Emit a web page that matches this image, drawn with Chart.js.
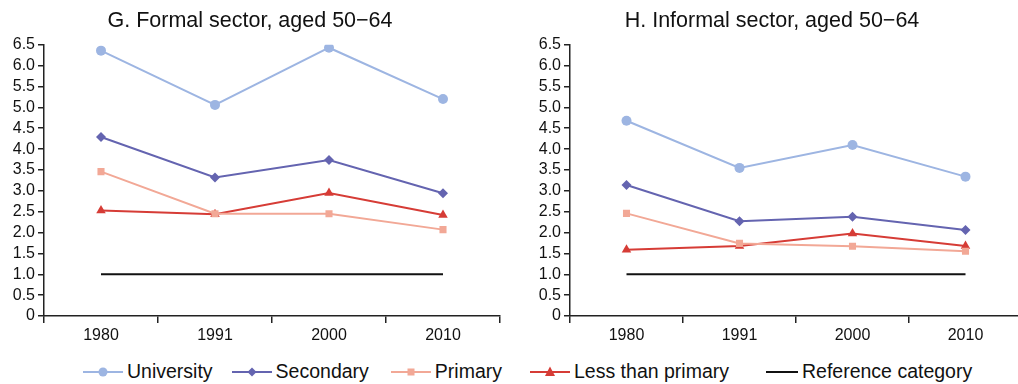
<!DOCTYPE html>
<html>
<head>
<meta charset="utf-8">
<script src="https://cdn.jsdelivr.net/npm/chart.js@4.4.1/dist/chart.umd.min.js"></script>
<style>
    html, body { margin: 0; padding: 0; background: #fff; overflow: hidden; }
    body { width: 1018px; height: 384px; position: relative; font-family: 'Liberation Sans', Arial, sans-serif; }
    .panel { position: absolute; top: 0; }
    #legend { position: absolute; left: 83px; top: 360px; display: flex; align-items: center; color: #111; font-size: 19.5px; }
    .item { display: flex; align-items: center; margin-right: 19px; }
    .item:nth-child(2) { margin-right: 22px; }
    .item:nth-child(3) { margin-right: 28px; }
    .item:nth-child(4) { margin-right: 37px; }
    .item span { margin-left: 4px; }
</style>
</head>
<body>
<div class="panel" style="left:0"><canvas id="formalChart" width="510" height="350"></canvas></div>
<div class="panel" style="left:522px"><canvas id="informalChart" width="510" height="350"></canvas></div>
<div id="legend"></div>

<script>
const years = ['1980', '1991', '2000', '2010'];

const formalUniversity = [6.36, 5.06, 6.43, 5.20];
const formalSecondary = [4.29, 3.32, 3.74, 2.94];
const formalPrimary = [3.46, 2.45, 2.45, 2.07];
const formalLessPrimary = [2.53, 2.44, 2.95, 2.42];

const informalUniversity = [4.68, 3.55, 4.10, 3.34];
const informalSecondary = [3.14, 2.27, 2.38, 2.06];
const informalPrimary = [2.46, 1.74, 1.67, 1.55];
const informalLessPrimary = [1.59, 1.68, 1.98, 1.68];

const referenceValues = [1, 1, 1, 1];

const seriesNames = ['University', 'Secondary', 'Primary', 'Less than primary', 'Reference category'];
const seriesColors = ['#9db5e2', '#6464b0', '#f2a896', '#d63c36', '#111111'];
const seriesMarkers = ['circle', 'rectRot', 'rect', 'triangle', false];
const markerSizes = [5, 5, 5, 5.5, 0];

const yMin = 0, yMax = 6.5, yStep = 0.5;
const fontFamily = "'Liberation Sans', Arial, sans-serif";

function buildDatasets(values) {
    return values.map((data, i) => ({
        label: seriesNames[i],
        data: data,
        borderColor: seriesColors[i],
        backgroundColor: seriesColors[i],
        borderWidth: 2,
        pointStyle: seriesMarkers[i],
        pointRadius: markerSizes[i],
        pointBorderWidth: 0,
        tension: 0
    }));
}

function makeChart(id, title, values, yWidth) {
    const ctx = document.getElementById(id).getContext('2d');
    return new Chart(ctx, {
        type: 'line',
        data: { labels: years, datasets: buildDatasets(values) },
        options: {
            responsive: false,
            animation: false,
            layout: { padding: { top: 5, right: 10, bottom: 4, left: 0 } },
            plugins: {
                legend: { display: false },
                tooltip: { enabled: false },
                title: {
                    display: true,
                    text: title,
                    color: '#111',
                    font: { family: fontFamily, size: 21.5, weight: 'normal' },
                    padding: { top: 3, bottom: 11 }
                }
            },
            scales: {
                x: {
                    offset: true,
                    grid: { offset: true, drawOnChartArea: false, color: '#222', tickLength: 7, lineWidth: 1.5 },
                    border: { color: '#222', width: 1.5 },
                    ticks: { color: '#111', padding: 3, font: { family: fontFamily, size: 16 } },
                    afterFit: (scale) => { scale.height = 30; }
                },
                y: {
                    min: yMin,
                    max: yMax,
                    grid: { drawOnChartArea: false, color: '#222', tickLength: 6, lineWidth: 1.5 },
                    border: { color: '#222', width: 1.5 },
                    ticks: {
                        stepSize: yStep,
                        autoSkip: false,
                        color: '#111',
                        padding: 3,
                        font: { family: fontFamily, size: 16 },
                        callback: (v) => v === 0 ? '0' : v.toFixed(1)
                    },
                    afterFit: (scale) => { scale.width = yWidth; }
                }
            }
        }
    });
}

makeChart('formalChart', 'G. Formal sector, aged 50\u221264',
    [formalUniversity, formalSecondary, formalPrimary, formalLessPrimary, referenceValues], 44);
makeChart('informalChart', 'H. Informal sector, aged 50\u221264',
    [informalUniversity, informalSecondary, informalPrimary, informalLessPrimary, referenceValues], 48);

function markerSvg(style, color) {
    let shape = '';
    if (style === 'circle') shape = `<circle cx="20" cy="7" r="4.5" fill="${color}"/>`;
    if (style === 'rectRot') shape = `<polygon points="20,2.5 24.5,7 20,11.5 15.5,7" fill="${color}"/>`;
    if (style === 'rect') shape = `<rect x="16.5" y="3.5" width="7" height="7" fill="${color}"/>`;
    if (style === 'triangle') shape = `<polygon points="20,1.5 25,11 15,11" fill="${color}"/>`;
    const w = style ? 40 : 32;
    return `<svg width="${w}" height="14"><line x1="0" y1="7" x2="${w}" y2="7" stroke="${color}" stroke-width="2"/>${shape}</svg>`;
}

document.getElementById('legend').innerHTML = seriesNames.map((name, i) =>
    `<div class="item">${markerSvg(seriesMarkers[i], seriesColors[i])}<span>${name}</span></div>`
).join('');
</script>
</body>
</html>
